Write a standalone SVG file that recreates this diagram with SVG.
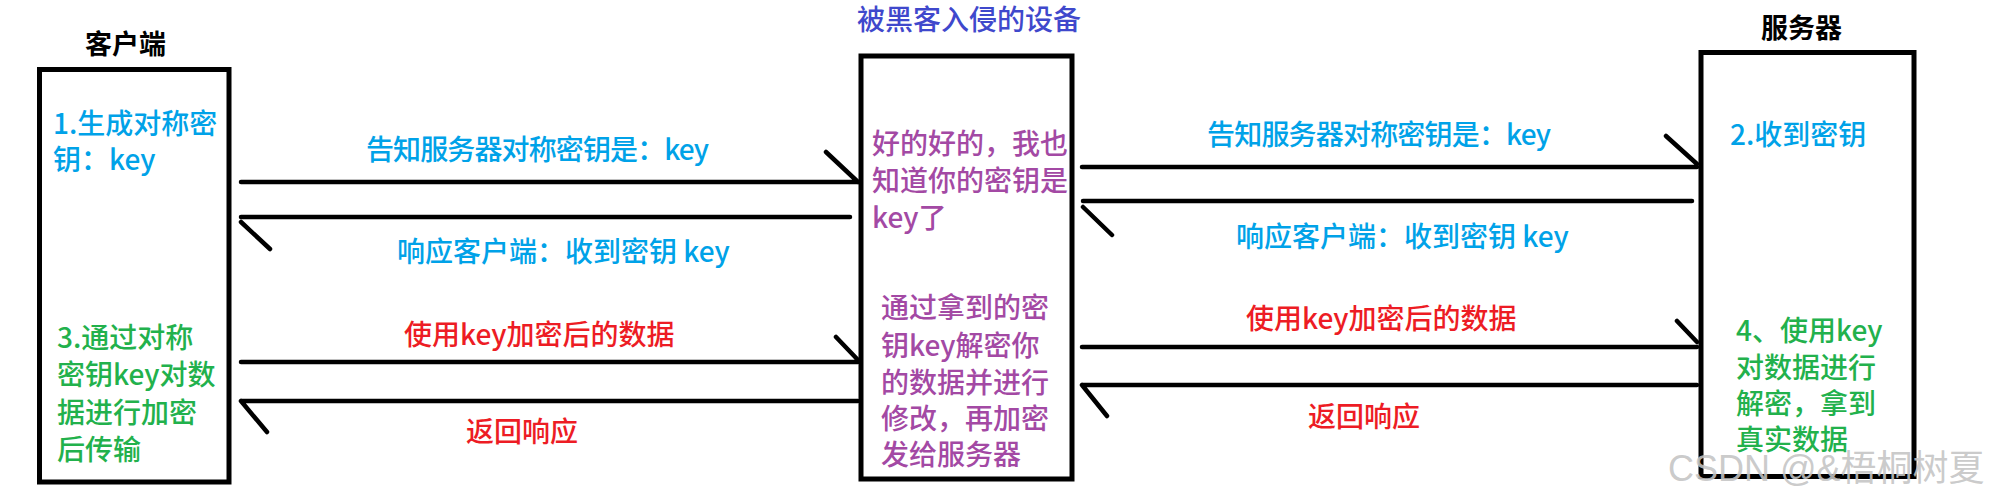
<svg xmlns="http://www.w3.org/2000/svg" width="1996" height="504" viewBox="0 0 1996 504">
<style>
text{font-family:"Noto Sans CJK SC","Microsoft YaHei",sans-serif;font-size:28px;font-weight:500}
.ttl{fill:#000;font-weight:bold;font-size:27px}
.ind{fill:#3f48cc}
.blue{fill:#00a2e8}
.red{fill:#ed1c24}
.green{fill:#22b14c}
.purple{fill:#a349a4}
.box{fill:#fff;stroke:#000;stroke-width:5}
.con{fill:none;stroke:#000;stroke-width:4.5;stroke-linecap:round}
.wm{font-family:"Liberation Sans","Noto Sans CJK SC",sans-serif;font-size:36px;font-weight:normal;fill:#c4c4c4;fill-opacity:0.9}
</style>
<rect width="1996" height="504" fill="#fff"/>
<g id="client">
<text class="ttl" x="85" y="54">客户端</text>
<rect class="box" x="39.5" y="69.5" width="189.5" height="412.5"/>
<text class="blue" x="53" y="134">1.生成对称密</text>
<text class="blue" x="53" y="170">钥：key</text>
<text class="green" x="57" y="348">3.通过对称</text>
<text class="green" x="57" y="385">密钥key对数</text>
<text class="green" x="57" y="423">据进行加密</text>
<text class="green" x="57" y="460">后传输</text>
</g>
<g id="hacker">
<text class="ind" x="857" y="30">被黑客入侵的设备</text>
<rect class="box" x="861" y="56" width="211" height="423"/>
<text class="purple" x="872" y="154">好的好的，我也</text>
<text class="purple" x="872" y="191">知道你的密钥是</text>
<text class="purple" x="872" y="228">key了</text>
<text class="purple" x="881" y="318">通过拿到的密</text>
<text class="purple" x="881" y="356">钥key解密你</text>
<text class="purple" x="881" y="393">的数据并进行</text>
<text class="purple" x="881" y="429">修改，再加密</text>
<text class="purple" x="881" y="465">发给服务器</text>
</g>
<g id="server">
<text class="ttl" x="1761" y="38">服务器</text>
<rect class="box" x="1701" y="52.5" width="213" height="424"/>
<text class="blue" x="1730" y="145">2.收到密钥</text>
<text class="green" x="1736" y="341">4、使用key</text>
<text class="green" x="1736" y="378">对数据进行</text>
<text class="green" x="1736" y="414">解密，拿到</text>
<text class="green" x="1736" y="450">真实数据</text>
</g>
<g id="connectors">
<path class="con" d="M241,182 L858,182 M826,152 L858,182"/>
<path class="con" d="M850,217 L241,217 M241,222 L270,249"/>
<path class="con" d="M241,362 L858,362 M836,337 L858,360"/>
<path class="con" d="M858,401 L241,401 M241,401 L267,432"/>
<path class="con" d="M1082,167 L1697,167 M1666,136 L1697,164"/>
<path class="con" d="M1692,201 L1083,201 M1083,207 L1112,235"/>
<path class="con" d="M1082,347 L1697,347 M1677,321 L1697,342"/>
<path class="con" d="M1697,385 L1082,385 M1082,385 L1107,416"/>
<text class="blue" x="366" y="160" textLength="343">告知服务器对称密钥是：key</text>
<text class="blue" x="397" y="262">响应客户端：收到密钥 key</text>
<text class="red" x="404" y="345">使用key加密后的数据</text>
<text class="red" x="466" y="442">返回响应</text>
<text class="blue" x="1207" y="145" textLength="344">告知服务器对称密钥是：key</text>
<text class="blue" x="1236" y="247">响应客户端：收到密钥 key</text>
<text class="red" x="1246" y="329">使用key加密后的数据</text>
<text class="red" x="1308" y="427">返回响应</text>
</g>
<text class="wm" x="1668" y="481">CSDN @&amp;梧桐树夏</text>
</svg>
